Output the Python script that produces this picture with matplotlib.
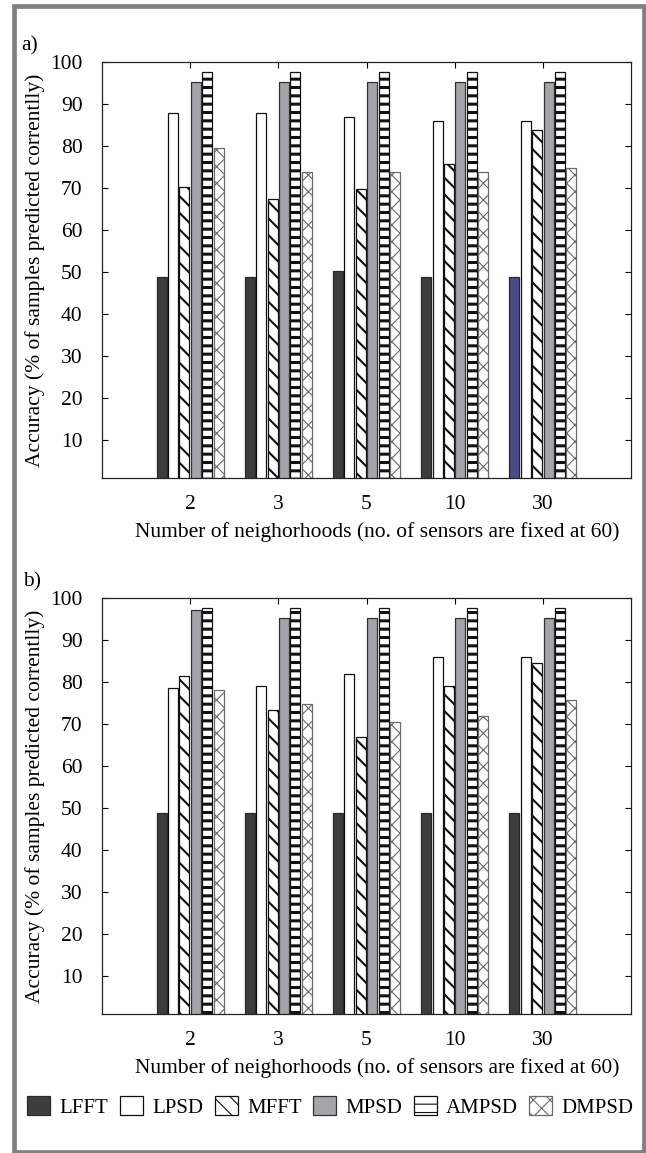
import numpy as np
import matplotlib
matplotlib.use('Agg')
import matplotlib.pyplot as plt
from matplotlib.patches import Rectangle

plt.rcParams['font.family'] = ['Liberation Serif', 'DejaVu Serif']

# x categories and series names
neighborhoods = ['2', '3', '5', '10', '30']
methods = ['LFFT', 'LPSD', 'MFFT', 'MPSD', 'AMPSD', 'DMPSD']

# panel a) accuracy values
a_lfft = [48.9, 48.9, 50.2, 48.9, 48.9]
a_lpsd = [87.8, 87.8, 86.8, 85.9, 85.9]
a_mfft = [70.2, 67.4, 69.7, 75.7, 83.7]
a_mpsd = [95.3, 95.3, 95.3, 95.3, 95.3]
a_ampsd = [97.7, 97.7, 97.7, 97.7, 97.7]
a_dmpsd = [79.5, 73.9, 73.9, 73.9, 74.8]

# panel b)
b_lfft = [48.9, 48.9, 48.9, 48.9, 48.9]
b_lpsd = [78.6, 79.0, 81.8, 86.0, 86.0]
b_mfft = [81.4, 73.4, 66.9, 79.0, 84.6]
b_mpsd = [97.2, 95.3, 95.3, 95.3, 95.3]
b_ampsd = [97.7, 97.7, 97.7, 97.7, 97.7]
b_dmpsd = [78.1, 74.8, 70.6, 72.0, 75.7]

panel_a = [a_lfft, a_lpsd, a_mfft, a_mpsd, a_ampsd, a_dmpsd]
panel_b = [b_lfft, b_lpsd, b_mfft, b_mpsd, b_ampsd, b_dmpsd]

# fill, edge, hatch, hatch linewidth for each method
styles = [
    ('#3d3d3d', '#2a2a2a', None, 1.0),
    ('white', '#111111', None, 1.0),
    ('white', '#111111', '\\\\', 1.5),
    ('#a4a4a9', '#333333', None, 1.0),
    ('white', '#111111', '--', 2.2),
    ('white', '#6a6a6a', 'xx', 0.8),
]

fig = plt.figure(figsize=(6.46, 11.53), dpi=100)

# grey frame around the whole figure
fig.patches.append(Rectangle((13.9 / 646, 1 - 1151.5 / 1153), (643.5 - 13.9) / 646,
                             (1151.5 - 5.5) / 1153, transform=fig.transFigure,
                             fill=False, edgecolor='#808080', linewidth=3.4))

x = np.arange(1, len(neighborhoods) + 1)
slot = 0.129
width = 0.113


def draw_panel(ax, data):
    conts = []
    for i, (vals, (fc, ec, hatch, hlw)) in enumerate(zip(data, styles)):
        plt.rcParams['hatch.linewidth'] = hlw
        bars = ax.bar(x + (i - 2.5) * slot, vals, width, color=fc, edgecolor=ec,
                      hatch=hatch, linewidth=0.9, label=methods[i])
        for b in bars:
            if hasattr(b, 'set_hatch_linewidth'):
                b.set_hatch_linewidth(hlw)
        conts.append(bars)
    ax.set_xlim(0, 6)
    ax.set_ylim(1, 100)
    ax.set_yticks(range(10, 101, 10))
    ax.set_xticks(x)
    ax.set_xticklabels(neighborhoods)
    ax.tick_params(direction='in', top=True, right=True, bottom=False,
                   length=4, width=0.8, labelsize=15.5)
    ax.tick_params(axis='y', pad=14)
    ax.tick_params(axis='x', pad=12)
    for s in ax.spines.values():
        s.set_linewidth(0.9)
        s.set_color('#222222')
    ax.set_ylabel('Accuracy (% of samples predicted correntlly)', fontsize=15.5, labelpad=4)
    ax.set_xlabel('Number of neighorhoods (no. of sensors are fixed at 60)', fontsize=15.5,
                  labelpad=6, x=0.52)
    return conts


ax1 = fig.add_axes([102 / 646, 1 - 478 / 1153, 529 / 646, 416 / 1153])
c1 = draw_panel(ax1, panel_a)
# the odd bluish bar in the last group of panel a)
c1[0].patches[-1].set_facecolor('#4b4a85')

ax2 = fig.add_axes([102 / 646, 1 - 1014 / 1153, 529 / 646, 416 / 1153])
draw_panel(ax2, panel_b)

fig.text(21 / 646, 1 - 50 / 1153, 'a)', fontsize=15.5)
fig.text(23 / 646, 1 - 586 / 1153, 'b)', fontsize=15.5)

fig.legend(c1, methods, loc='center', bbox_to_anchor=(330.5 / 646, 1 - 1107 / 1153),
           ncol=6, frameon=False, fontsize=15, handlelength=1.1, handleheight=1.05,
           handletextpad=0.45, columnspacing=0.55)

fig.savefig('out.png', dpi=100)
